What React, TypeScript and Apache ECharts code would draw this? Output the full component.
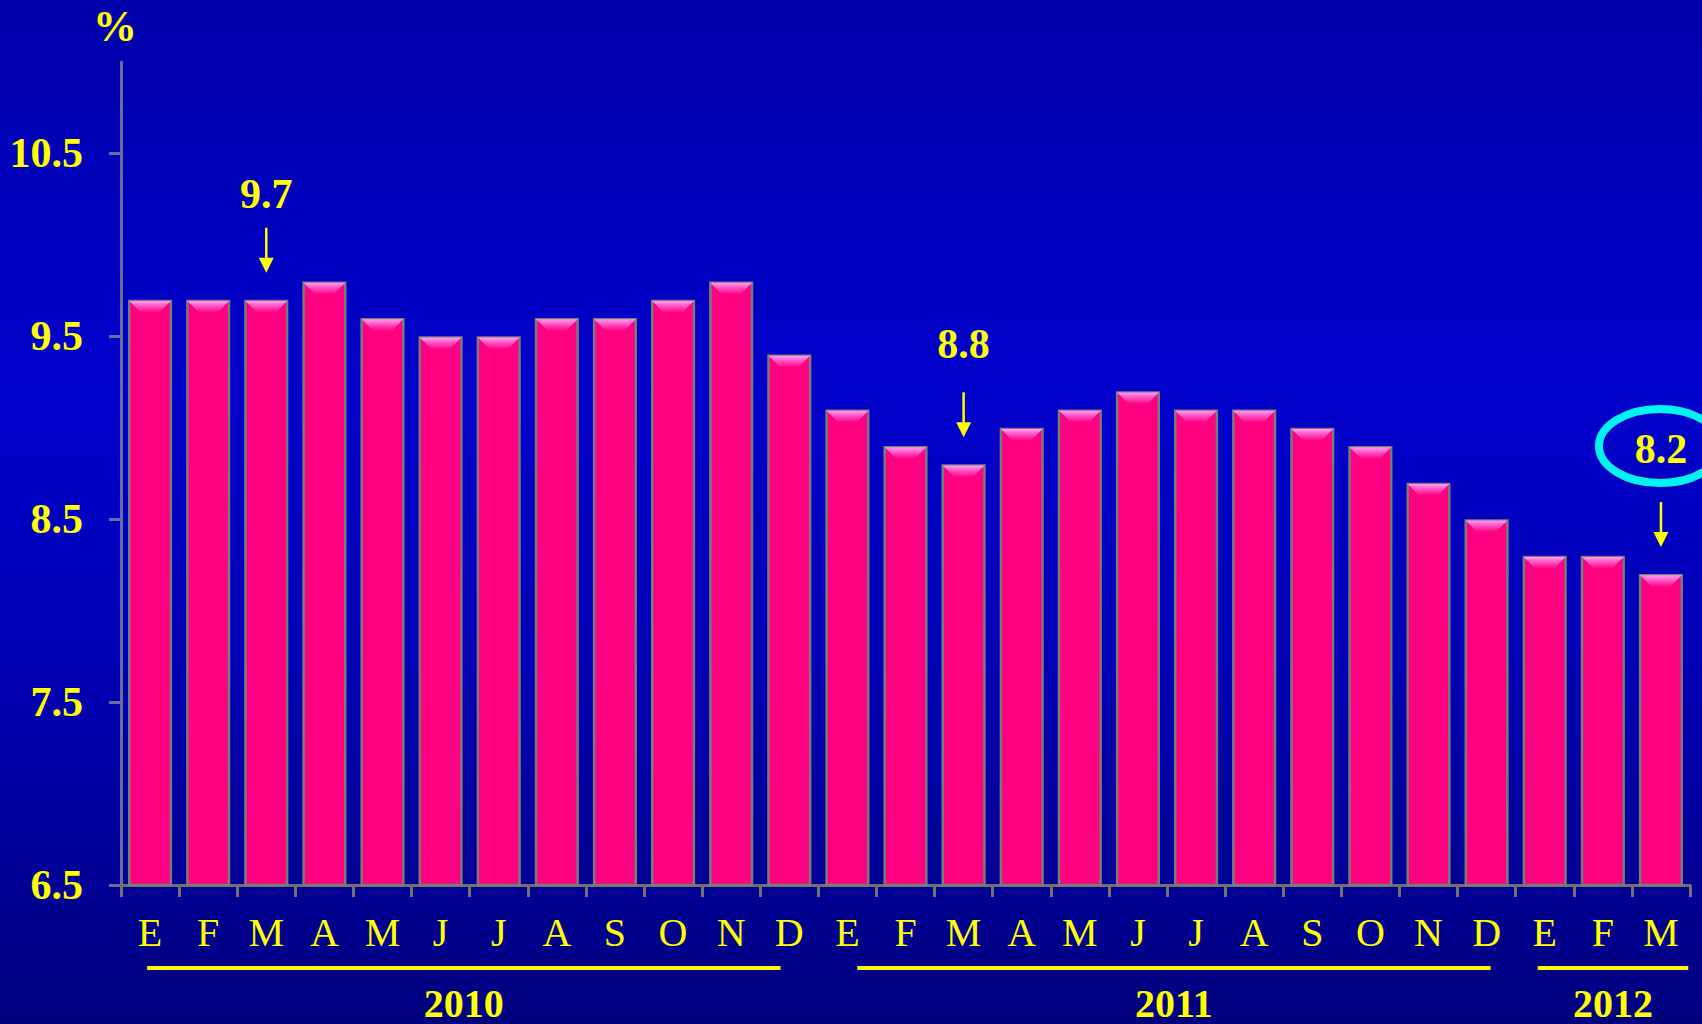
import React, { useEffect, useRef } from 'react';
import * as echarts from 'echarts';

const months = ['E', 'F', 'M', 'A', 'M', 'J', 'J', 'A', 'S', 'O', 'N', 'D', 'E', 'F', 'M', 'A', 'M', 'J', 'J', 'A', 'S', 'O', 'N', 'D', 'E', 'F', 'M'];
const values = [9.7, 9.7, 9.7, 9.8, 9.6, 9.5, 9.5, 9.6, 9.6, 9.7, 9.8, 9.4, 9.1, 8.9, 8.8, 9.0, 9.1, 9.2, 9.1, 9.1, 9.0, 8.9, 8.7, 8.5, 8.3, 8.3, 8.2];
const yTicks = [6.5, 7.5, 8.5, 9.5, 10.5];
const yearLabels = ['2010', '2011', '2012'];
const yearFirst = [0, 12, 24];
const yearLast = [11, 23, 26];
const calloutIndex = [2, 14, 26];
const circledIndex = 26;
const unitLabel = '%';

// layout (pixels / category units), not data
const yearLineOffsets = [[-0.05, -0.15], [0.17, 0.07], [-0.12, 0.47]];
const calloutTextGap = [106, 120, 125];
const YELLOW = '#FFFF00';
const SERIF = "'Liberation Serif', 'Times New Roman', serif";
const BAR_RATIO = 0.76;

export default function App() {
  const ref = useRef<HTMLDivElement>(null);

  useEffect(() => {
    if (!ref.current) return;
    const chart = echarts.init(ref.current, undefined, { renderer: 'svg' });

    const capGradient = new echarts.graphic.LinearGradient(0, 0, 0, 1, [
      { offset: 0, color: '#ff9cf4' },
      { offset: 0.5, color: '#ff4fc0' },
      { offset: 1, color: '#ff0a88' },
    ]);

    const option: any = {
      animation: false,
      backgroundColor: 'transparent',
      grid: { left: 121, right: 12, top: 62, bottom: 139, containLabel: false, outerBoundsMode: 'none' },
      xAxis: {
        type: 'category',
        data: months,
        boundaryGap: true,
        axisLine: { show: true, lineStyle: { color: '#707070', width: 3 } },
        axisTick: { show: true, length: 12, inside: false, lineStyle: { color: '#707070', width: 3 } },
        axisLabel: { interval: 0, color: YELLOW, fontSize: 40, fontFamily: SERIF, margin: 27 },
        splitLine: { show: false },
      },
      yAxis: {
        type: 'value',
        min: 6.5,
        max: 11,
        axisLine: { show: true, lineStyle: { color: '#6a6a9c', width: 3 } },
        axisTick: { show: true, length: 12, customValues: yTicks, lineStyle: { color: '#6a6a9c', width: 3 } },
        axisLabel: {
          customValues: yTicks,
          color: YELLOW,
          fontSize: 42,
          fontWeight: 'bold',
          fontFamily: SERIF,
          margin: 38,
          formatter: (v: number) => v.toFixed(1),
        },
        splitLine: { show: false },
      },
      series: [
        {
          type: 'bar',
          data: values,
          barWidth: `${BAR_RATIO * 100}%`,
          itemStyle: { color: '#FF0080', borderColor: '#7a7a7a', borderWidth: 2.5 },
          z: 2,
        },
        {
          type: 'custom',
          data: values.map((v, i) => [i, v]),
          encode: { x: 0, y: 1 },
          z: 3,
          silent: true,
          renderItem: (params: any, api: any) => {
            const idx = api.value(0);
            const v = api.value(1);
            const p = api.coord([idx, v]);
            const w = api.size([1, 0])[0] * BAR_RATIO;
            const b = 2.5;
            const h = 11;
            const x0 = p[0] - w / 2 + b / 2;
            const x1 = p[0] + w / 2 - b / 2;
            const y0 = p[1] + b / 2;
            return {
              type: 'polygon',
              shape: { points: [[x0, y0], [x1, y0], [x1 - h, y0 + h], [x0 + h, y0 + h]] },
              style: { fill: capGradient },
            };
          },
        },
      ],
    };
    chart.setOption(option);

    const px = (i: number) => chart.convertToPixel({ xAxisIndex: 0 }, i) as number;
    const py = (v: number) => chart.convertToPixel({ yAxisIndex: 0 }, v) as number;
    const unit = px(1) - px(0);
    const yAxisX = px(0) - unit / 2;
    const gridTop = py(11);
    const axisY = py(6.5);

    const graphics: any[] = [];
    graphics.push({
      type: 'text',
      style: { text: unitLabel, x: yAxisX - 6, y: gridTop - 36, fill: YELLOW, font: `bold 44px ${SERIF}`, align: 'center', verticalAlign: 'middle' },
    });

    calloutIndex.forEach((idx, k) => {
      const cx = px(idx);
      const top = py(values[idx]);
      const textY = top - calloutTextGap[k];
      graphics.push({
        type: 'text',
        style: { text: values[idx].toFixed(1), x: cx, y: textY, fill: YELLOW, font: `bold 42px ${SERIF}`, align: 'center', verticalAlign: 'middle' },
      });
      const startY = top - 72;
      const tipY = top - 27;
      graphics.push({
        type: 'line',
        shape: { x1: cx, y1: startY, x2: cx, y2: tipY - 12 },
        style: { stroke: YELLOW, lineWidth: 2.5 },
      });
      graphics.push({
        type: 'polygon',
        shape: { points: [[cx - 7.5, tipY - 15], [cx + 7.5, tipY - 15], [cx, tipY]] },
        style: { fill: YELLOW },
      });
      if (idx === circledIndex) {
        graphics.push({
          type: 'ellipse',
          shape: { cx: cx - 1, cy: textY - 3, rx: 61, ry: 37 },
          style: { fill: 'transparent', stroke: '#00F4F4', lineWidth: 8 },
        });
      }
    });

    yearLabels.forEach((label, k) => {
      const xa = px(yearFirst[k]) + yearLineOffsets[k][0] * unit;
      const xb = px(yearLast[k]) + yearLineOffsets[k][1] * unit;
      const lineY = axisY + 83;
      graphics.push({
        type: 'line',
        shape: { x1: xa, y1: lineY, x2: xb, y2: lineY },
        style: { stroke: YELLOW, lineWidth: 4 },
      });
      graphics.push({
        type: 'text',
        style: { text: label, x: (xa + xb) / 2, y: axisY + 118, fill: YELLOW, font: `bold 40px ${SERIF}`, align: 'center', verticalAlign: 'middle' },
      });
    });

    chart.setOption({ graphic: graphics });

    return () => {
      chart.dispose();
    };
  }, []);

  return (
    <div
      ref={ref}
      style={{
        position: 'fixed',
        left: 0,
        top: 0,
        width: 1702,
        height: 1024,
        background: 'linear-gradient(to bottom, #0000aa 0%, #0000cc 38%, #0000b4 65%, #00007e 100%)',
      }}
    />
  );
}
